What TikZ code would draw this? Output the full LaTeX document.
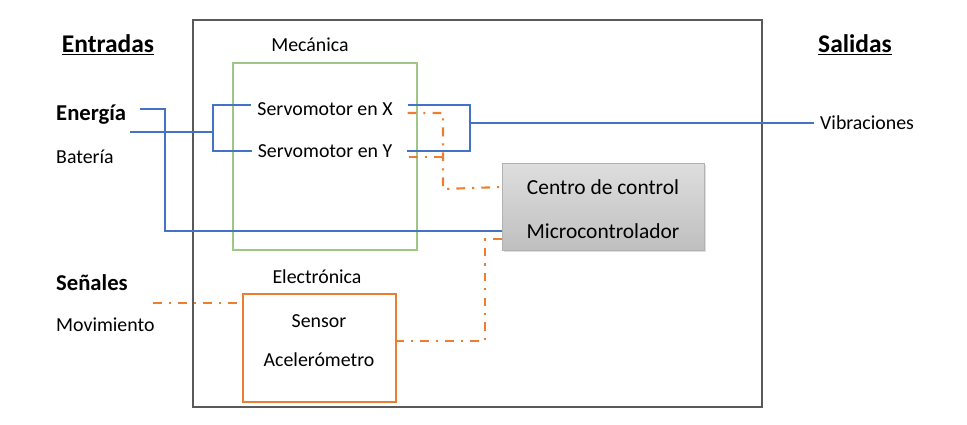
\documentclass[tikz,border=0pt]{standalone}
\usepackage{fontspec}
\setmainfont{Carlito}
\usetikzlibrary{positioning}
\usetikzlibrary{shadows}

\definecolor{azul}{HTML}{4472C4}
\definecolor{naranja}{HTML}{ED7D31}
\definecolor{verde}{HTML}{9DC783}
\definecolor{marco}{HTML}{595959}

\begin{document}
\begin{tikzpicture}[x = 0.02cm, y = -0.02cm,
font = \fontsize{11.3}{13}\selectfont,
sistema/.style = {shape = rectangle, draw = marco, line width = 0.8pt, minimum width = 11.38cm, minimum height = 7.74cm},
mecan/.style = {shape = rectangle, draw = verde, line width = 0.6pt, minimum width = 3.68cm, minimum height = 3.74cm},
senso/.style = {shape = rectangle, draw = naranja, line width = 0.7pt, minimum width = 3.06cm, minimum height = 2.16cm},
ctrl/.style = {shape = rectangle, draw = black!30, top color = black!13, bottom color = black!25, minimum width = 4.04cm, minimum height = 1.74cm, drop shadow = {opacity = 0.25, shadow xshift = 1pt, shadow yshift = -1pt}},
titulo/.style = {font = \fontsize{14.5}{16}\selectfont\bfseries},
etiq/.style = {anchor = west},
energ/.style = {draw = azul, line width = 1.1pt},
senal/.style = {draw = naranja, line width = 1.2pt, dash pattern = on 5pt off 4pt on 1.2pt off 4pt},
]
\useasboundingbox (0, 0) rectangle (967, 425);

% bloques
\node[sistema] (S) at (477.5, 213.5) {};
\node[mecan] (M) at (325, 156.5) {};
\node[senso] (A) at (319.5, 348) {};
\node[ctrl] (C) at (603, 206.5) {};

% textos de bloques
\node (mecT) at (310, 45) {Mecánica};
\node (servoX) at (325, 109) {Servomotor en X};
\node (servoY) at (325, 151) {Servomotor en Y};
\node (eleT) at (317, 277) {Electrónica};
\node (sensT) at (319, 321) {Sensor};
\node (acelT) at (319, 360) {Acelerómetro};
\node[font = \fontsize{12.2}{14}\selectfont] (centro) at (603, 187) {Centro de control};
\node[font = \fontsize{12.2}{14}\selectfont] (micro) at (603, 231) {Microcontrolador};

% entradas y salidas
\node[titulo] (ent) at (108, 45) {\underline{Entradas}};
\node[titulo] (sal) at (855, 45) {\underline{Salidas}};
\node[etiq, font = \fontsize{12.9}{15}\selectfont\bfseries] (energia) at (50, 115) {Energía};
\node[etiq] (bat) at (50, 157) {Batería};
\node[etiq, font = \fontsize{12.9}{15}\selectfont\bfseries] (senales) at (50, 283) {Señales};
\node[etiq] (mov) at (50, 325) {Movimiento};
\node[etiq] (vibra) at (814, 123) {Vibraciones};

% puntos de union
\coordinate (eIn1) at (140, 109);
\coordinate (eIn2) at (130, 132);
\coordinate (busL) at (213, 132);
\coordinate (busR) at (470, 123);
\coordinate (ctrlBus) at (443, 189);
\coordinate (senBus) at (485, 341);
\coordinate (movIn) at (153, 303);
\coordinate (yOut) at ([xshift = 6pt, yshift = -3.5pt]servoY.east);

% energia
\draw[energ] (eIn1) -- ++(25, 0) |- (C.west |- micro);
\draw[energ] (eIn2) -- (busL);
\draw[energ] ([yshift = 2.5pt]servoX.west) -| (busL) |- (servoY.west);
\draw[energ] ([xshift = 5pt, yshift = 2.5pt]servoX.east) -| (busR) |- ([xshift = 5pt]servoY.east);
\draw[energ] (busR) -- (vibra.west);

% senales
\draw[senal] ([xshift = 5pt, yshift = -2.3pt]servoX.east) -| (ctrlBus) -- (C.west |- centro);
\draw[senal] (yOut) -- (yOut -| ctrlBus);
\draw[senal] ([yshift = 0.22cm]C.south west) -| (senBus) -- (senBus -| A.east);
\draw[senal] (movIn) -- (movIn -| A.west);
\end{tikzpicture}
\end{document}
